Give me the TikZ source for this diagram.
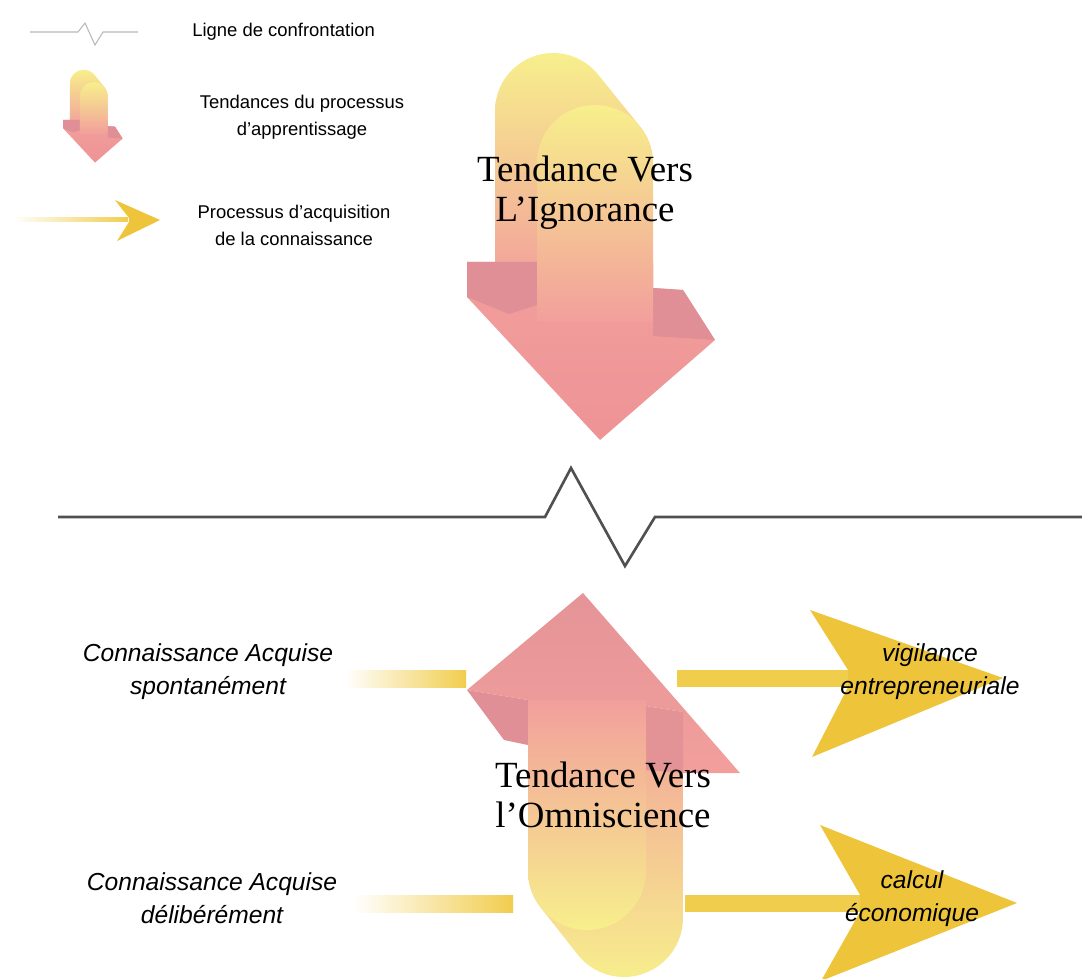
\documentclass[tikz,border=0pt]{standalone}
\usepackage{fontspec}
\setmainfont{Liberation Serif}
\setsansfont{Liberation Sans}
\usepackage{xcolor}
\usepackage{tikz}
\definecolor{ylw}{HTML}{F7EF8C}
\definecolor{pnk}{HTML}{F29F9C}
\definecolor{pnkdeep}{HTML}{EE9396}
\definecolor{pnkdark}{HTML}{DF8F95}
\definecolor{gold}{HTML}{EEC43A}
\definecolor{goldbar}{HTML}{F1CD4E}
\definecolor{confront}{HTML}{505050}
\tikzset{
  legtxt/.style={font=\sffamily\fontsize{10.5}{15.4}\selectfont,align=center,inner sep=0pt},
  itltxt/.style={font=\sffamily\itshape\fontsize{14}{18.8}\selectfont,align=center,inner sep=0pt},
  bigtxt/.style={font=\fontsize{21}{22.8}\selectfont,align=center,inner sep=0pt},
  gbar/.style={fill=goldbar},
  ghead/.style={fill=gold},
  cline/.style={draw=confront,line width=1.5pt},
  lgline/.style={draw=gray!55,line width=0.6pt}
}
% fleche descendante (ignorance), en pixels
\newcommand{\downarr}{%
  \shade[top color=ylw,bottom color=pnk] (495,290) -- (495,111) arc[start angle=180,end angle=321.1,radius=58] -- (640.1,126.6) arc[start angle=321.1,end angle=360,radius=58] -- (653,290) -- cycle;
  \shade[top color=pnk,bottom color=pnkdeep] (467,262) -- (653,262) -- (653,288) -- (683,290) -- (715,340) -- (600,440) -- (467,297) -- cycle;
  \fill[pnkdark] (467,262) -- (537,262) -- (537,305) -- (509,314) -- (467,297) -- cycle;
  \fill[pnkdark] (653,288) -- (683,290) -- (715,340) -- (653,336) -- cycle;
  \shade[top color=ylw,bottom color=pnk] (537,322) -- (537,163) arc[start angle=180,end angle=360,radius=58] -- (653,322) -- cycle;
}

\begin{document}
\begin{tikzpicture}[x=0.02cm,y=-0.02cm]
\useasboundingbox (0,0) rectangle (1082,979);
% legende
\draw[lgline] (30,32) -- (78,32) -- (85,23) -- (95,45) -- (103,32) -- (138,32);
\node[legtxt,anchor=west] (lgligne) at (192,32) {Ligne de confrontation};
\begin{scope}[shift={(-49,57)},scale=0.24] \downarr \end{scope}
\node[legtxt] (lgtend) at (302,117) {Tendances du processus\\d'apprentissage};
\shade[left color=white,right color=goldbar] (12,218) rectangle (128,222);
\fill[ghead] (115,200) -- (160,220) -- (117,241) -- (129,222) -- (129,218) -- cycle;
\node[legtxt] (lgacq) at (294,225) {Processus d'acquisition\\de la connaissance};

% tendance vers l'ignorance
\downarr
\node[bigtxt] (ignor) at (585,193) {Tendance Vers\\L'Ignorance};

% ligne de confrontation
\draw[cline] (58,517) -- (545,517) -- (571,468) -- (625,566) -- (655,517) -- (1082,517);

% processus d'acquisition
\shade[left color=white,right color=goldbar] (345,670) rectangle (466,687);
\fill[gbar] (677,670) rectangle (850,687);
\fill[ghead] (810,610) -- (1003,678) -- (812,757) -- (848,687) -- (848,670) -- cycle;
\shade[left color=white,right color=goldbar] (353,895) rectangle (513,912);
\fill[gbar] (685,895) rectangle (862,912);
\fill[ghead] (820,825) -- (1017,903) -- (821,981) -- (860,912) -- (860,895) -- cycle;

% tendance vers l'omniscience
\shade[top color=pnk,bottom color=ylw] (528,700) -- (528,871) arc[start angle=180,end angle=141.8,radius=59] -- (577.6,954.5) arc[start angle=141.8,end angle=0,radius=59] -- (683,712) -- cycle;
\shade[top color=pnkdark!70!pnk,bottom color=pnk] (467,690) -- (583,593) -- (740,773) -- (683,773) -- (683,712) -- (646,706) -- (528,700) -- cycle;
\fill[pnkdark!80!pnk] (646,706) -- (683,712) -- (683,773) -- (646,770) -- cycle;
\fill[pnkdark] (467,690) -- (528,700) -- (528,745) -- (504,740) -- cycle;
\shade[top color=pnk,bottom color=ylw] (528,700) -- (528,871) arc[start angle=180,end angle=0,radius=59] -- (646,700) -- cycle;
\node[bigtxt] (omni) at (603,795) {Tendance Vers\\l'Omniscience};

% libelles
\node[itltxt] (spont) at (208,672) {Connaissance Acquise\\spontanément};
\node[itltxt] (delib) at (212,898) {Connaissance Acquise\\délibérément};
\node[itltxt] (vigil) at (930,672) {vigilance\\entrepreneuriale};
\node[itltxt] (calc) at (912,899) {calcul\\économique};
\end{tikzpicture}
\end{document}
